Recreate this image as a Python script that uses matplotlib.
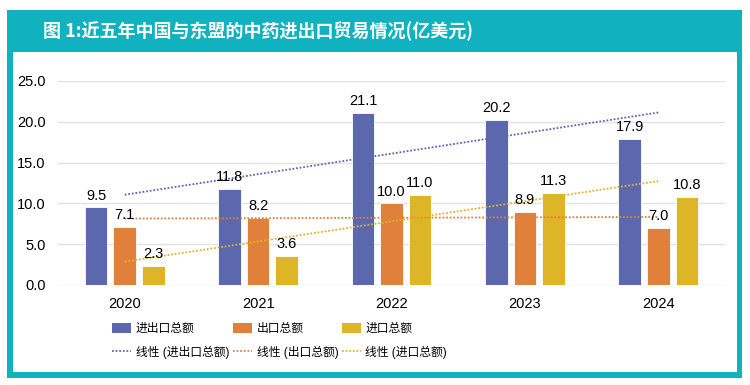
import matplotlib
matplotlib.use("Agg")
import matplotlib.pyplot as plt
from matplotlib.patches import Rectangle
from matplotlib.lines import Line2D
import numpy as np

plt.rcParams['font.family'] = ['Liberation Sans', 'Noto Sans CJK SC']

# données (亿美元)
annees = ["2020", "2021", "2022", "2023", "2024"]
total = [9.5, 11.8, 21.1, 20.2, 17.9]
export = [7.1, 8.2, 10.0, 8.9, 7.0]
importation = [2.3, 3.6, 11.0, 11.3, 10.8]
noms = ["进出口总额", "出口总额", "进口总额"]
titre = "图 1:近五年中国与东盟的中药进出口贸易情况(亿美元)"

couleurs = ["#5b68ae", "#e0803a", "#deb526"]
teal = "#10b2c0"

fig = plt.figure(figsize=(7.5, 3.85), dpi=100)

# cadre turquoise + bandeau du titre
W, H = 750, 385
fig.patches.append(Rectangle((7 / W, 1 - 378 / H), 735 / W, 368 / H, transform=fig.transFigure,
                             facecolor=teal, edgecolor="none", zorder=-2))
fig.patches.append(Rectangle((13 / W, 1 - 372 / H), 724 / W, 320 / H, transform=fig.transFigure,
                             facecolor="white", edgecolor="none", zorder=-1))
fig.text(43 / W, 1 - 31 / H, titre, color="white", fontsize=13, fontweight="bold",
         va="center", ha="left", family=['Noto Sans CJK SC', 'DejaVu Sans'])

ax = fig.add_axes([58 / W, 1 - 285 / H, 667 / W, 204 / H])
ax.set_facecolor("none")

x = np.arange(len(annees))
larg = 0.17
ecart = 0.214
series = [total, export, importation]
for i, (vals, c) in enumerate(zip(series, couleurs)):
    pos = x + (i - 1) * ecart
    ax.bar(pos, vals, larg, color=c, edgecolor="white", linewidth=0.6, zorder=2)
    for px, v in zip(pos, vals):
        ax.text(px, v + 0.6, f"{v:.1f}", ha="center", va="bottom", fontsize=10.5, zorder=4)

# courbes de tendance linéaire
for vals, c in zip(series, couleurs):
    a, b = np.polyfit(x, vals, 1)
    ax.plot(x, a * x + b, color=c, linestyle=(0, (1, 1)), linewidth=1.3, zorder=3)

ax.set_xlim(-0.5, 4.5)
ax.set_ylim(0, 25)
ax.set_yticks(np.arange(0, 26, 5))
ax.set_yticklabels([f"{v:.1f}" for v in np.arange(0, 26, 5)])
ax.set_xticks(x)
ax.set_xticklabels(annees)
ax.tick_params(axis="both", length=0, labelsize=10.5)
ax.tick_params(axis="y", pad=9)
ax.tick_params(axis="x", pad=9)
ax.grid(axis="y", color="#e2e2e2", linewidth=1, zorder=0)
for s in ax.spines.values():
    s.set_visible(False)

# légende (ordre colonne par colonne)
poignees = []
labels = []
for n, c in zip(noms, couleurs):
    poignees.append(Rectangle((0, 0), 1, 1, facecolor=c))
    labels.append(n)
    poignees.append(Line2D([], [], color=c, linestyle=(0, (1, 1)), linewidth=1.3))
    labels.append(f"线性 ({n})")
fig.legend(poignees, labels, ncol=3, loc="upper left", bbox_to_anchor=(104 / W, 1 - 315 / H),
           frameon=False, fontsize=8.5, handlelength=1.6, handleheight=0.85, handletextpad=0.4,
           columnspacing=0.3, labelspacing=0.85, borderpad=0.2)

fig.savefig("out.png", dpi=100)
